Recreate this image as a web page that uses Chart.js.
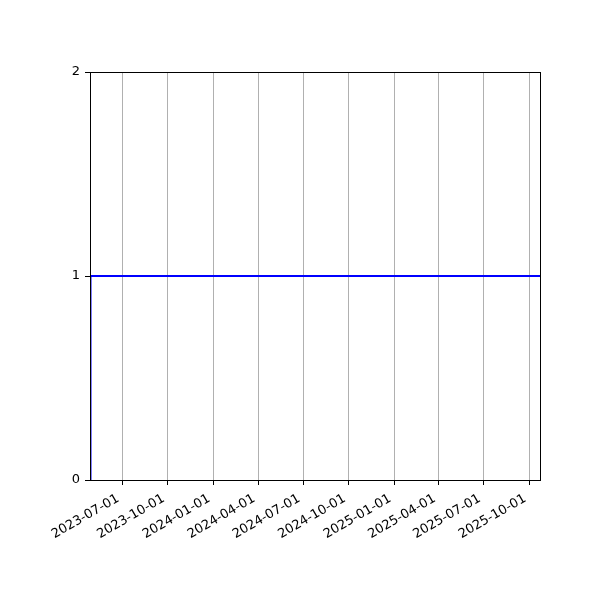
<!DOCTYPE html>
<html>
<head>
<meta charset="utf-8">
<script src="https://cdn.jsdelivr.net/npm/chart.js@4"></script>
<style>
  html, body { margin: 0; padding: 0; background: #fff; }
  #wrap { width: 600px; height: 600px; }
</style>
</head>
<body>
<div id="wrap"><canvas id="chart" width="600" height="600"></canvas></div>
<script>
// series: starts at 0, steps to 1 the next day and stays there
var dates = ['2023-04-27', '2023-04-28', '2025-10-23'];
var values = [0, 1, 1];
var tickDates = ['2023-07-01', '2023-10-01', '2024-01-01', '2024-04-01', '2024-07-01',
                 '2024-10-01', '2025-01-01', '2025-04-01', '2025-07-01', '2025-10-01'];
var yTicks = [0, 1, 2];

function ms(d) { return Date.parse(d + 'T00:00:00Z'); }

var points = dates.map(function (d, i) { return { x: ms(d), y: values[i] }; });

// box around the plot area, like matplotlib spines
var frame = {
    id: 'frame',
    afterDraw: function (chart) {
        var a = chart.chartArea, ctx = chart.ctx;
        ctx.save();
        ctx.strokeStyle = '#000';
        ctx.lineWidth = 1;
        ctx.strokeRect(Math.round(a.left) + 0.5, Math.round(a.top) + 0.5,
                       Math.round(a.right - a.left), Math.round(a.bottom - a.top));
        ctx.restore();
    }
};

var config = {
    type: 'line',
    data: {
        datasets: [{
            data: points,
            borderColor: '#0000ff',
            borderWidth: 2,
            pointRadius: 0,
            fill: false,
            tension: 0,
        }],
    },
    options: {
        responsive: false,
        animation: false,
        layout: { padding: { top: 72, right: 60, left: 0, bottom: 0 } },
        plugins: { legend: { display: false }, tooltip: { enabled: false } },
        scales: {
            x: {
                type: 'linear',
                min: ms(dates[0]),
                max: ms(dates[dates.length - 1]),
                afterBuildTicks: function (axis) {
                    axis.ticks = tickDates.map(function (d) { return { value: ms(d) }; });
                },
                afterFit: function (axis) { axis.height = 120; },
                grid: { color: '#b0b0b0', lineWidth: 1, tickColor: '#000', tickLength: 5, drawOnChartArea: true },
                border: { display: false },
                ticks: {
                    color: '#000',
                    font: { family: 'DejaVu Sans', size: 13 },
                    minRotation: 30,
                    maxRotation: 30,
                    autoSkip: false,
                    padding: 6,
                    labelOffset: -4,
                    callback: function (v) { return new Date(v).toISOString().slice(0, 10); },
                },
            },
            y: {
                min: 0,
                max: 2,
                afterBuildTicks: function (axis) {
                    axis.ticks = yTicks.map(function (v) { return { value: v }; });
                },
                afterFit: function (axis) { axis.width = 90; },
                grid: { drawOnChartArea: false, tickColor: '#000', tickLength: 5 },
                border: { display: false },
                ticks: {
                    color: '#000',
                    font: { family: 'DejaVu Sans', size: 13 },
                    padding: 5,
                },
            },
        },
    },
    plugins: [frame],
};

var myChart = new Chart(document.getElementById('chart'), config);
</script>
</body>
</html>
